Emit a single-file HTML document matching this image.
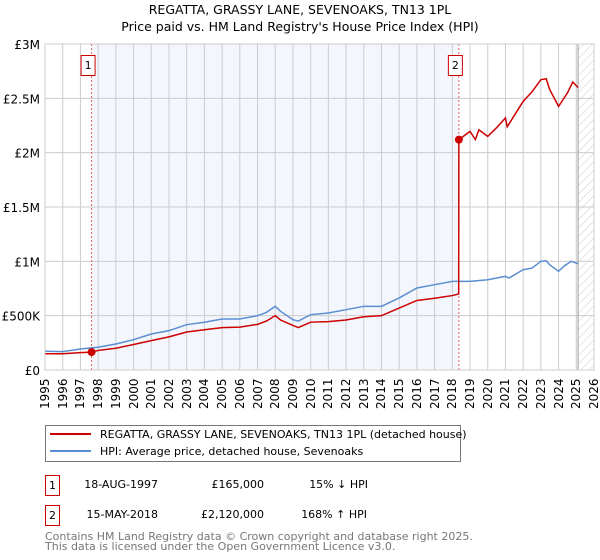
<!DOCTYPE html>
<html><head><meta charset="utf-8"><style>
body{margin:0;width:600px;height:560px;background:#fff;font-family:"DejaVu Sans","Liberation Sans",sans-serif;overflow:hidden;position:relative}
svg text{font-family:"DejaVu Sans","Liberation Sans",sans-serif}
#xl div{position:absolute;top:375px;width:14px;height:34px;font-size:12px;line-height:14px;writing-mode:vertical-rl;transform:rotate(180deg);text-align:left;white-space:nowrap}
</style></head><body>
<svg id="c" width="600" height="560" style="position:absolute;left:0;top:0">
<defs><pattern id="hatch" width="6" height="6" patternUnits="userSpaceOnUse" patternTransform="rotate(45)"><line x1="0" y1="0" x2="0" y2="6" stroke="#ccc" stroke-width="1"/></pattern></defs>
<text x="300" y="14" text-anchor="middle" font-size="12.5">REGATTA, GRASSY LANE, SEVENOAKS, TN13 1PL</text>
<text x="300" y="31" text-anchor="middle" font-size="12.5">Price paid vs. HM Land Registry's House Price Index (HPI)</text>
<g id="plot"></g>
<g>
<rect x="45.5" y="425.5" width="415" height="36" fill="#fff" stroke="#777"/>
<line x1="50" y1="434" x2="91" y2="434" stroke="#cc0000" stroke-width="2"/>
<text x="100" y="438" font-size="11">REGATTA, GRASSY LANE, SEVENOAKS, TN13 1PL (detached house)</text>
<line x1="50" y1="451" x2="91" y2="451" stroke="#5b8ed0" stroke-width="2"/>
<text x="100" y="455" font-size="11">HPI: Average price, detached house, Sevenoaks</text>
</g>
<g font-size="11">
<rect x="45.5" y="475.5" width="14" height="20" fill="#fff" stroke="#c00"/><text x="52.5" y="489" text-anchor="middle">1</text>
<text x="158" y="488" text-anchor="end">18-AUG-1997</text><text x="264" y="488" text-anchor="end">£165,000</text><text x="368" y="488" text-anchor="end">15% ↓ HPI</text>
<rect x="45.5" y="505.5" width="14" height="20" fill="#fff" stroke="#c00"/><text x="52.5" y="519" text-anchor="middle">2</text>
<text x="158" y="518" text-anchor="end">15-MAY-2018</text><text x="264" y="518" text-anchor="end">£2,120,000</text><text x="367" y="518" text-anchor="end">168% ↑ HPI</text>
</g>
<text x="45" y="540" font-size="11" fill="#777">Contains HM Land Registry data © Crown copyright and database right 2025.</text>
<text x="45" y="550" font-size="11" fill="#777">This data is licensed under the Open Government Licence v3.0.</text>
</svg>
<div id="xl"></div>
<script>
const hpiYears=[1995,1996,1997,1998,1999,2000,2001,2002,2003,2004,2005,2006,2007,2007.5,2008,2008.3,2009,2009.3,2010,2011,2012,2013,2014,2015,2016,2017,2018,2019,2020,2021,2021.2,2022,2022.5,2023,2023.3,2023.5,2024,2024.3,2024.7,2025.1];
const hpiValues=[172,169,193,209,239,279,331,362,417,439,469,469,500,530,586,540,463,450,509,525,555,586,586,663,755,785,816,816,831,862,846,923,938,1000,1005,968,908,955,1000,978];
const redYears=[1995,1996,1997,1997.63,1998,1999,2000,2001,2002,2003,2004,2005,2006,2007,2007.5,2008,2008.3,2009,2009.3,2010,2011,2012,2013,2014,2015,2016,2017,2018,2018.36,2018.37,2019,2019.3,2019.5,2020,2020.5,2021,2021.1,2022,2022.5,2023,2023.3,2023.5,2024,2024.5,2024.8,2025.1];
const redValues=[150,150,160,165,180,200,235,270,305,350,370,390,395,420,450,500,460,410,390,440,445,460,490,500,570,640,660,685,700,2120,2196,2120,2210,2150,2230,2319,2238,2472,2560,2672,2680,2580,2426,2550,2650,2600];
const sales=[{n:"1",year:1997.63,value:165},{n:"2",year:2018.37,value:2120}];
const yTicks=[0,500,1000,1500,2000,2500,3000];
const yTickLabels=["£0","£500K","£1M","£1.5M","£2M","£2.5M","£3M"];
const xTicks=[1995,1996,1997,1998,1999,2000,2001,2002,2003,2004,2005,2006,2007,2008,2009,2010,2011,2012,2013,2014,2015,2016,2017,2018,2019,2020,2021,2022,2023,2024,2025,2026];

const X0=45,X1=594,Y0=370,Y1=44;
const xs=y=>X0+(y-1995)/(2026-1995)*(X1-X0);
const ys=v=>Y0-v/3000*(Y0-Y1);
const NS="http://www.w3.org/2000/svg";
const g=document.getElementById('plot');
const xl=document.getElementById('xl');
function mk(t,a,p){const e=document.createElementNS(NS,t);for(const k in a)e.setAttribute(k,a[k]);(p||g).appendChild(e);return e;}
const shade=mk('rect',{x:xs(1997.63),y:Y1,width:xs(2018.37)-xs(1997.63),height:Y0-Y1,fill:'#f3f6fd'});


const hat=mk('rect',{x:xs(2025.1),y:Y1,width:X1-xs(2025.1),height:Y0-Y1,fill:'url(#hatch)'});


xTicks.forEach(t=>{
  const l=mk('line',{x1:xs(t),x2:xs(t),y1:Y1,y2:Y0,stroke:'#ccc','stroke-width':1});
  
  
  const d=document.createElement('div');
  d.style.left=(xs(t)-7)+'px';
  d.textContent=t;
  
  
  xl.appendChild(d);
});
yTicks.forEach((t,i)=>{
  const l=mk('line',{x1:X0,x2:X1,y1:ys(t),y2:ys(t),stroke:'#ccc','stroke-width':1});
  
  
  const tx=mk('text',{x:40,y:ys(t)+5,'font-size':12,'text-anchor':'end'});
  tx.textContent=yTickLabels[i];
  
  
});
const vl=mk('line',{x1:xs(2025.1),x2:xs(2025.1),y1:Y1,y2:Y0,stroke:'#999','stroke-width':1});


sales.forEach(s=>{
  const l=mk('line',{x1:xs(s.year),x2:xs(s.year),y1:Y1,y2:Y0,stroke:'#e06060','stroke-width':1,'stroke-dasharray':'2,2'});
  
  
  const r=mk('rect',{x:xs(s.year)-10.5,y:55.5,width:14,height:20,fill:'#fff',stroke:'#c00'});
  
  
  const t=mk('text',{x:xs(s.year)-3.5,y:69,'font-size':11,'text-anchor':'middle'});
  t.textContent=s.n;
  
  
});
const hp=mk('polyline',{points:hpiYears.map((y,i)=>xs(y)+','+ys(hpiValues[i])).join(' '),fill:'none',stroke:'#5b8ed0','stroke-width':1.5});


const rp=mk('polyline',{points:redYears.map((y,i)=>xs(y)+','+ys(redValues[i])).join(' '),fill:'none',stroke:'#cc0000','stroke-width':1.5});


sales.forEach(s=>{
  const c=mk('circle',{cx:xs(s.year),cy:ys(s.value),r:4,fill:'#cc0000'});
  
  
});
const fr=mk('rect',{x:X0,y:Y1,width:X1-X0,height:Y0-Y1,fill:'none',stroke:'#ccc'});


</script>
</body></html>
